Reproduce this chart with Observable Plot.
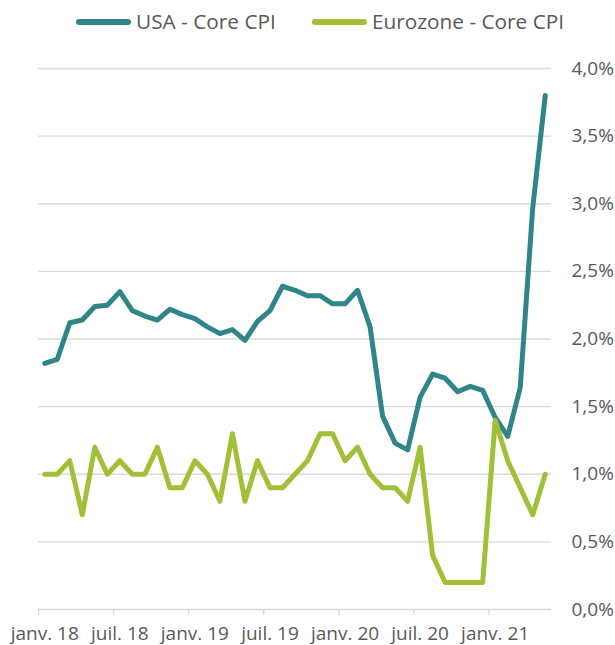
<!DOCTYPE html>
<html>
<head>
<meta charset="utf-8">
<script src="https://cdn.jsdelivr.net/npm/d3@7"></script>
<script src="https://cdn.jsdelivr.net/npm/@observablehq/plot@0.6"></script>
<style>
  html, body { margin: 0; padding: 0; background: #fff; }
  #legend { position: relative; width: 615px; height: 45px; font-family: "Open Sans", sans-serif; color: #595959; }
  #legend .sw { position: absolute; top: 19px; height: 6px; width: 55px; border-radius: 3px; }
  #legend .lb { position: absolute; top: 7px; font-size: 20.8px; line-height: normal; white-space: nowrap; }
</style>
</head>
<body>
<div id="legend"></div>
<div id="chart"></div>
<script>
const months = ["2018-01","2018-02","2018-03","2018-04","2018-05","2018-06","2018-07","2018-08","2018-09","2018-10","2018-11","2018-12",
  "2019-01","2019-02","2019-03","2019-04","2019-05","2019-06","2019-07","2019-08","2019-09","2019-10","2019-11","2019-12",
  "2020-01","2020-02","2020-03","2020-04","2020-05","2020-06","2020-07","2020-08","2020-09","2020-10","2020-11","2020-12",
  "2021-01","2021-02","2021-03","2021-04","2021-05"];
const usaCore = [1.82,1.85,2.12,2.14,2.24,2.25,2.35,2.21,2.17,2.14,2.22,2.18,
  2.15,2.09,2.04,2.07,1.99,2.13,2.21,2.39,2.36,2.32,2.32,2.26,
  2.26,2.36,2.09,1.43,1.23,1.18,1.57,1.74,1.71,1.61,1.65,1.62,
  1.42,1.28,1.64,2.97,3.80];
const euroCore = [1.0,1.0,1.1,0.7,1.2,1.0,1.1,1.0,1.0,1.2,0.9,0.9,
  1.1,1.0,0.8,1.3,0.8,1.1,0.9,0.9,1.0,1.1,1.3,1.3,
  1.1,1.2,1.0,0.9,0.9,0.8,1.2,0.4,0.2,0.2,0.2,0.2,
  1.4,1.1,0.9,0.7,1.0];
const tickMonths = ["2018-01","2018-07","2019-01","2019-07","2020-01","2020-07","2021-01"];
const tickLabels = ["janv. 18","juil. 18","janv. 19","juil. 19","janv. 20","juil. 20","janv. 21"];
const yTicks = [0,0.5,1.0,1.5,2.0,2.5,3.0,3.5,4.0];
const seriesNames = ["USA - Core CPI","Eurozone - Core CPI"];
const seriesColors = ["#2f8587","#a2c037"];

// legend (HTML, above the SVG)
const legend = document.getElementById("legend");
const legendPos = [[76,136],[312,372]];
seriesNames.forEach((name, i) => {
  const sw = document.createElement("span");
  sw.className = "sw"; sw.style.left = legendPos[i][0] + "px"; sw.style.background = seriesColors[i];
  const lb = document.createElement("span");
  lb.className = "lb"; lb.style.left = legendPos[i][1] + "px"; lb.textContent = name;
  legend.appendChild(sw); legend.appendChild(lb);
});

const rows = [];
months.forEach((m, i) => {
  rows.push({pos: i + 0.5, value: usaCore[i], series: seriesNames[0]});
});
months.forEach((m, i) => {
  rows.push({pos: i + 0.5, value: euroCore[i], series: seriesNames[1]});
});

const tickPos = tickMonths.map(m => months.indexOf(m));
const labelPos = tickPos.map(p => p + 0.5);
const labelAt = new Map(labelPos.map((p, i) => [p, tickLabels[i]]));
const fmtPct = d => d.toFixed(1).replace(".", ",") + "%";

const chart = Plot.plot({
  width: 615,
  height: 600,
  marginTop: 23,
  marginBottom: 36,
  marginLeft: 38,
  marginRight: 64,
  style: {fontFamily: "'Open Sans', sans-serif", fontSize: "19px", color: "#595959", background: "#fff", overflow: "visible"},
  x: {type: "linear", domain: [0, months.length], axis: null},
  y: {domain: [0, 4], axis: null},
  color: {domain: seriesNames, range: seriesColors},
  marks: [
    Plot.gridY(yTicks.filter(v => v > 0), {stroke: "#d9d9d9", strokeOpacity: 1, strokeWidth: 1.4}),
    Plot.ruleY([0], {stroke: "#d9d9d9", strokeWidth: 1.4}),
    Plot.axisX(tickPos, {tickSize: 6, tickFormat: () => "", label: null, stroke: "#d9d9d9", strokeWidth: 1.4}),
    Plot.axisX(labelPos, {tickSize: 0, tickPadding: 17, tickFormat: d => labelAt.get(d), label: null, fill: "#595959"}),
    Plot.axisY(yTicks, {anchor: "right", tickSize: 0, tickPadding: 20, tickFormat: fmtPct, label: null, fill: "#595959"}),
    Plot.line(rows.filter(r => r.series === seriesNames[0]), {x: "pos", y: "value", stroke: "series", strokeWidth: 5, strokeLinejoin: "round", strokeLinecap: "round"}),
    Plot.line(rows.filter(r => r.series === seriesNames[1]), {x: "pos", y: "value", stroke: "series", strokeWidth: 5, strokeLinejoin: "round", strokeLinecap: "round"})
  ]
});
document.getElementById("chart").appendChild(chart);
</script>
</body>
</html>
